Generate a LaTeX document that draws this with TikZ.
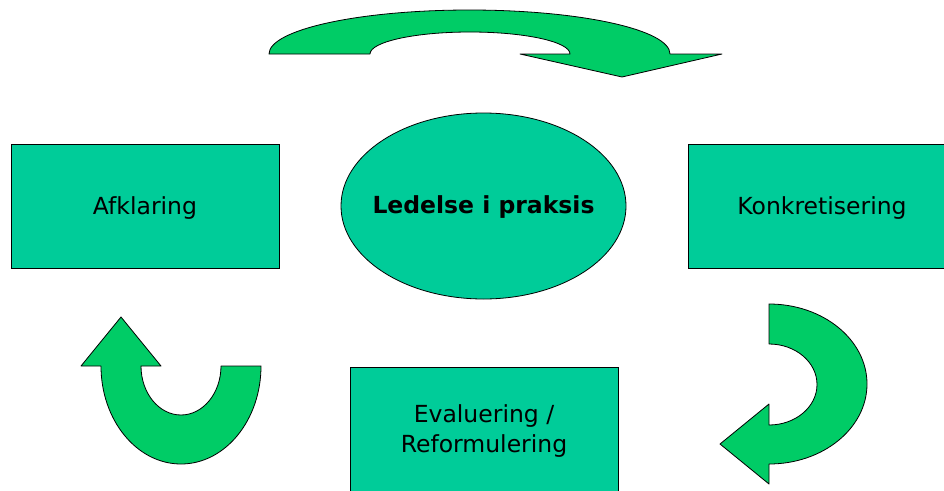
\documentclass[tikz,border=0pt]{standalone}
\usepackage{fontspec}
\setmainfont{DejaVu Sans}
\definecolor{boxgreen}{HTML}{00CC99}
\definecolor{arrowgreen}{HTML}{00CC66}
\begin{document}
\begin{tikzpicture}[
    x=1pt, y=-1pt,
    box/.style={rectangle, draw, fill=boxgreen, line width=1pt, minimum width=268pt, minimum height=124pt, inner sep=0pt, align=center, text depth=0pt, font=\fontsize{23.5}{30}\selectfont},
    hub/.style={draw, fill=boxgreen, line width=0.8pt},
    turnarrow/.style={draw, fill=arrowgreen, line width=0.8pt, line join=round}
]
\clip (0,0) rectangle (944,490);

\node[box] (afk) at (145,206) {Afklaring};
\draw[hub] (483.5,206) ellipse [x radius=142.5, y radius=93];
\node[font=\fontsize{23.5}{30}\selectfont\bfseries] (led) at (483.5,207) {Ledelse i praksis};
\node[box] (konk) at (822,206) {Konkretisering};
\node[box] (eval) at (484,429) {Evaluering /\\Reformulering};

% top arrow
\path[turnarrow] (269,54) arc[start angle=180, end angle=360, x radius=200.5, y radius=44]
    -- (722,54) -- (622,77) -- (520,54) -- (570,54)
    arc[start angle=360, end angle=180, x radius=100, y radius=22] -- cycle;

% right arrow
\path[turnarrow] (769,304) arc[start angle=-90, end angle=90, x radius=98, y radius=80]
    -- (769,484) -- (720,444) -- (769,404) -- (769,425)
    arc[start angle=90, end angle=-90, x radius=48, y radius=40.5] -- cycle;

% left arrow
\path[turnarrow] (101,366) -- (81,366) -- (121,317) -- (161,366) -- (141,366)
    arc[start angle=180, end angle=0, x radius=40, y radius=49]
    -- (261,366) arc[start angle=0, end angle=180, x radius=80, y radius=98] -- cycle;
\end{tikzpicture}
\end{document}
